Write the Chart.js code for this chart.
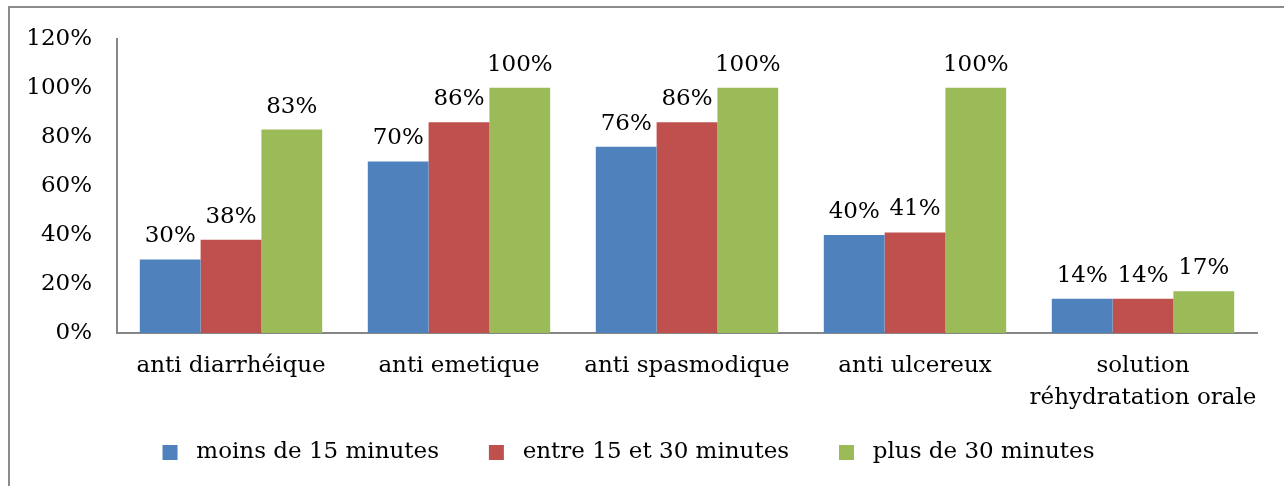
<!DOCTYPE html>
<html>
<head>
<meta charset="utf-8">
<script src="https://cdn.jsdelivr.net/npm/chart.js@4/dist/chart.umd.min.js"></script>
<style>
html,body{margin:0;padding:0;background:#fff;overflow:hidden}
#frame{position:absolute;left:8px;top:6px;width:1300px;height:500px;border:2px solid #8c8c8c;box-sizing:border-box}
#wrap{position:absolute;left:0;top:0;width:1284px;height:486px}
</style>
</head>
<body>
<div id="frame"></div>
<div id="wrap"><canvas id="chart" width="1284" height="486"></canvas></div>
<script>

/* data */

const categories=["anti diarrhéique","anti emetique","anti spasmodique","anti ulcereux",["solution","réhydratation orale"]]

const moins15=[30,70,76,40,14]
const entre15_30=[38,86,86,41,14]
const plus30=[83,100,100,100,17]

const yTicks=[0,20,40,60,80,100,120]

const FONT="'DejaVu Serif', serif"
const SIZE=23


/* value labels above bars */

const valueLabels={
id:"valueLabels",
afterDatasetsDraw(chart){
const ctx=chart.ctx
ctx.save()
ctx.font=SIZE+"px "+FONT
ctx.fillStyle="#000"
ctx.textAlign="center"
ctx.textBaseline="alphabetic"
chart.data.datasets.forEach((ds,i)=>{
chart.getDatasetMeta(i).data.forEach((bar,j)=>{
ctx.fillText(ds.data[j]+"%",bar.x,bar.y-17)
})
})
ctx.restore()
}
}


const ctx=document.getElementById("chart").getContext("2d")

new Chart(ctx,{

type:"bar",

data:{
labels:categories,
datasets:[
{label:"moins de 15 minutes",data:moins15,backgroundColor:"#4F81BD"},
{label:"entre 15 et 30 minutes",data:entre15_30,backgroundColor:"#C0504D"},
{label:"plus de 30 minutes",data:plus30,backgroundColor:"#9BBB59"}
]
},

options:{
responsive:false,
animation:false,
layout:{padding:{top:36,right:27,bottom:12,left:0}},
datasets:{bar:{barPercentage:1,categoryPercentage:0.8}},
plugins:{
legend:{
position:"bottom",
labels:{
font:{family:FONT,size:SIZE},
color:"#000",
boxWidth:15,
boxHeight:15,
padding:28,
generateLabels(chart){
/* spaces widen the gaps box→text and between items */
const items=Chart.defaults.plugins.legend.labels.generateLabels(chart)
return items.map((l,i)=>{l.text=" "+l.text+(i<items.length-1?"   ":"");return l})
}
}
},
tooltip:{enabled:false}
},
scales:{
x:{
grid:{display:false,drawTicks:false},
border:{display:true,color:"#868686",width:2},
ticks:{
font:{family:FONT,size:SIZE,lineHeight:1.35},
color:"#000",
padding:18,
maxRotation:0,
autoSkip:false
},
afterFit(scale){scale.height=80}
},
y:{
min:0,
max:120,
afterBuildTicks(scale){scale.ticks=yTicks.map(v=>({value:v}))},
grid:{display:false,drawTicks:false},
border:{display:true,color:"#868686",width:2},
ticks:{
font:{family:FONT,size:SIZE},
color:"#000",
padding:25,
callback:v=>v+"%"
},
afterFit(scale){scale.width=117}
}
}
},

plugins:[valueLabels]

})

</script>
</body>
</html>
